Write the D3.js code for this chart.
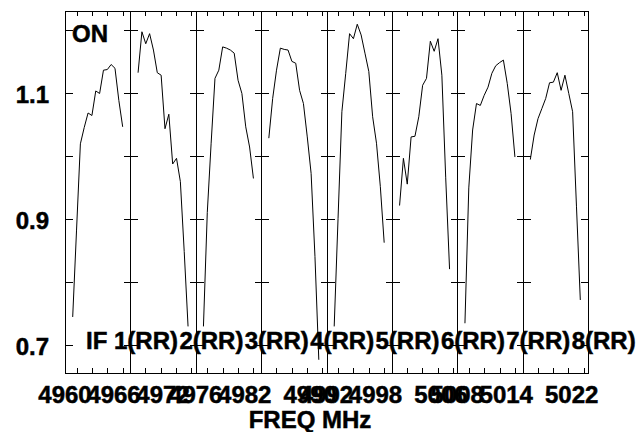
<!DOCTYPE html>
<html>
<head>
<meta charset="utf-8">
<script src="https://cdn.jsdelivr.net/npm/d3@7"></script>
<style>
  body { margin: 0; background: #fff; }
  text { font-family: "Liberation Sans", Arial, sans-serif; font-weight: bold; fill: #000; stroke: #000; stroke-width: 0.5; }
</style>
</head>
<body>
<script>
// panel labels, one per IF
const ifNames = ['1(RR)', '2(RR)', '3(RR)', '4(RR)', '5(RR)', '6(RR)', '7(RR)', '8(RR)'];

// channels plotted in every IF
const channels = [2, 3, 4, 5, 6, 7, 8, 9, 10, 11, 12, 13, 14, 15];

// amplitude per IF
const amp1 = [0.744, 0.882, 1.019, 1.045, 1.068, 1.064, 1.103, 1.099, 1.136, 1.137, 1.145, 1.139, 1.088, 1.046];
const amp2 = [1.132, 1.197, 1.178, 1.194, 1.168, 1.132, 1.128, 1.043, 1.066, 0.987, 0.996, 0.959, 0.848, 0.729];
const amp3 = [0.729, 0.910, 1.020, 1.123, 1.136, 1.173, 1.171, 1.168, 1.163, 1.120, 1.099, 1.046, 1.014, 0.964];
const amp4 = [1.028, 1.091, 1.136, 1.171, 1.169, 1.168, 1.150, 1.147, 1.104, 1.083, 1.030, 0.972, 0.840, 0.676];
const amp5 = [0.729, 0.900, 1.070, 1.131, 1.194, 1.186, 1.209, 1.192, 1.163, 1.134, 1.062, 1.020, 0.951, 0.862];
const amp6 = [0.921, 0.996, 0.955, 1.030, 1.031, 1.062, 1.112, 1.123, 1.182, 1.166, 1.186, 1.128, 0.965, 0.820];
const amp7 = [0.734, 0.949, 1.041, 1.083, 1.080, 1.096, 1.109, 1.131, 1.143, 1.148, 1.152, 1.115, 1.067, 0.998];
const amp8 = [0.994, 1.033, 1.059, 1.075, 1.091, 1.116, 1.117, 1.132, 1.104, 1.128, 1.099, 1.070, 0.920, 0.771];
const amps = [amp1, amp2, amp3, amp4, amp5, amp6, amp7, amp8];

// axis ticks
const yTicks = [0.7, 0.8, 0.9, 1.0, 1.1, 1.2];
const yLabels = [0.7, 0.9, 1.1];
const xTicksOdd = [3.05, 7.0, 11.0, 15.0];   // channel positions of the small ticks
const xTicksEven = [3.9, 7.9, 11.9, 15.85];
const freqLabels = [4960, 4966, 4972, 4976, 4982, 4990, 4992, 4998, 5006, 5008, 5014, 5022];

(() => {
    const W = 644, H = 432;
    const left = 65, right = 588, top = 11, bottom = 373;

    const svg = d3.select('body')
        .append('svg')
        .attr('width', W)
        .attr('height', H);

    svg.append('rect').attr('width', W).attr('height', H).attr('fill', '#fff');

    // one band per IF
    const panel = d3.scaleBand()
        .domain(d3.range(ifNames.length))
        .range([left, right]);

    const yScale = d3.scaleLinear()
        .domain([0.655, 1.23])
        .range([bottom, top]);

    // overall frequency axis for the labels
    const fScale = d3.scaleLinear()
        .domain([4960, 5024])
        .range([left, right]);

    const g = svg.append('g')
        .attr('stroke', '#000')
        .attr('fill', 'none')
        .attr('stroke-width', 1)
        .attr('shape-rendering', 'crispEdges');

    //frame
    g.append('rect')
        .attr('x', left + 0.5)
        .attr('y', top + 0.5)
        .attr('width', right - left)
        .attr('height', bottom - top);

    ifNames.forEach((name, i) => {
        const x0 = panel(i);
        const xScale = d3.scaleLinear()
            .domain([0, 17])
            .range([x0, x0 + panel.bandwidth()]);

        // panel divider
        if (i > 0) {
            g.append('line')
                .attr('x1', Math.round(x0) + 0.5).attr('x2', Math.round(x0) + 0.5)
                .attr('y1', top).attr('y2', bottom);
        }

        // y ticks on both sides of each divider
        const xl = Math.round(x0) + 0.5;
        yTicks.forEach(v => {
            const y = Math.round(yScale(v)) + 0.5;
            g.append('line')
                .attr('x1', i === 0 ? xl : xl - 7).attr('x2', xl + 7)
                .attr('y1', y).attr('y2', y);
        });

        // x ticks top and bottom
        const tk = i % 2 === 0 ? xTicksOdd : xTicksEven;
        tk.forEach(c => {
            const x = Math.round(xScale(c)) + 0.5;
            g.append('line').attr('x1', x).attr('x2', x).attr('y1', top).attr('y2', top + 5);
            g.append('line').attr('x1', x).attr('x2', x).attr('y1', bottom - 5).attr('y2', bottom);
        });

        // spectrum
        const line = d3.line()
            .x((d, j) => xScale(channels[j]))
            .y(d => yScale(d));

        svg.append('path')
            .datum(amps[i])
            .attr('d', line)
            .attr('fill', 'none')
            .attr('stroke', '#000')
            .attr('stroke-width', 1);

        // IF label
        svg.append('text')
            .attr('x', i === 0 ? x0 + 21 : x0 + 49)
            .attr('y', 349)
            .attr('font-size', 24)
            .text(i === 0 ? 'IF ' + name : name);
    });

    // y ticks on right edge
    yTicks.forEach(v => {
        const y = Math.round(yScale(v)) + 0.5;
        g.append('line').attr('x1', right - 7).attr('x2', right + 0.5).attr('y1', y).attr('y2', y);
    });

    // y labels
    svg.selectAll('.ylab')
        .data(yLabels)
        .enter()
        .append('text')
        .attr('class', 'ylab')
        .attr('x', 49)
        .attr('y', d => yScale(d) + 10)
        .attr('font-size', 24)
        .attr('text-anchor', 'end')
        .text(d => d3.format('.1f')(d));

    // frequency labels
    svg.selectAll('.xlab')
        .data(freqLabels)
        .enter()
        .append('text')
        .attr('class', 'xlab')
        .attr('x', d => fScale(d))
        .attr('y', 403)
        .attr('font-size', 24)
        .attr('text-anchor', 'middle')
        .text(d => d);

    svg.append('text')
        .attr('x', 310)
        .attr('y', 428)
        .attr('font-size', 24)
        .attr('text-anchor', 'middle')
        .text('FREQ MHz');

    svg.append('text')
        .attr('x', 72)
        .attr('y', 42)
        .attr('font-size', 24)
        .text('ON');
})();
</script>
</body>
</html>
